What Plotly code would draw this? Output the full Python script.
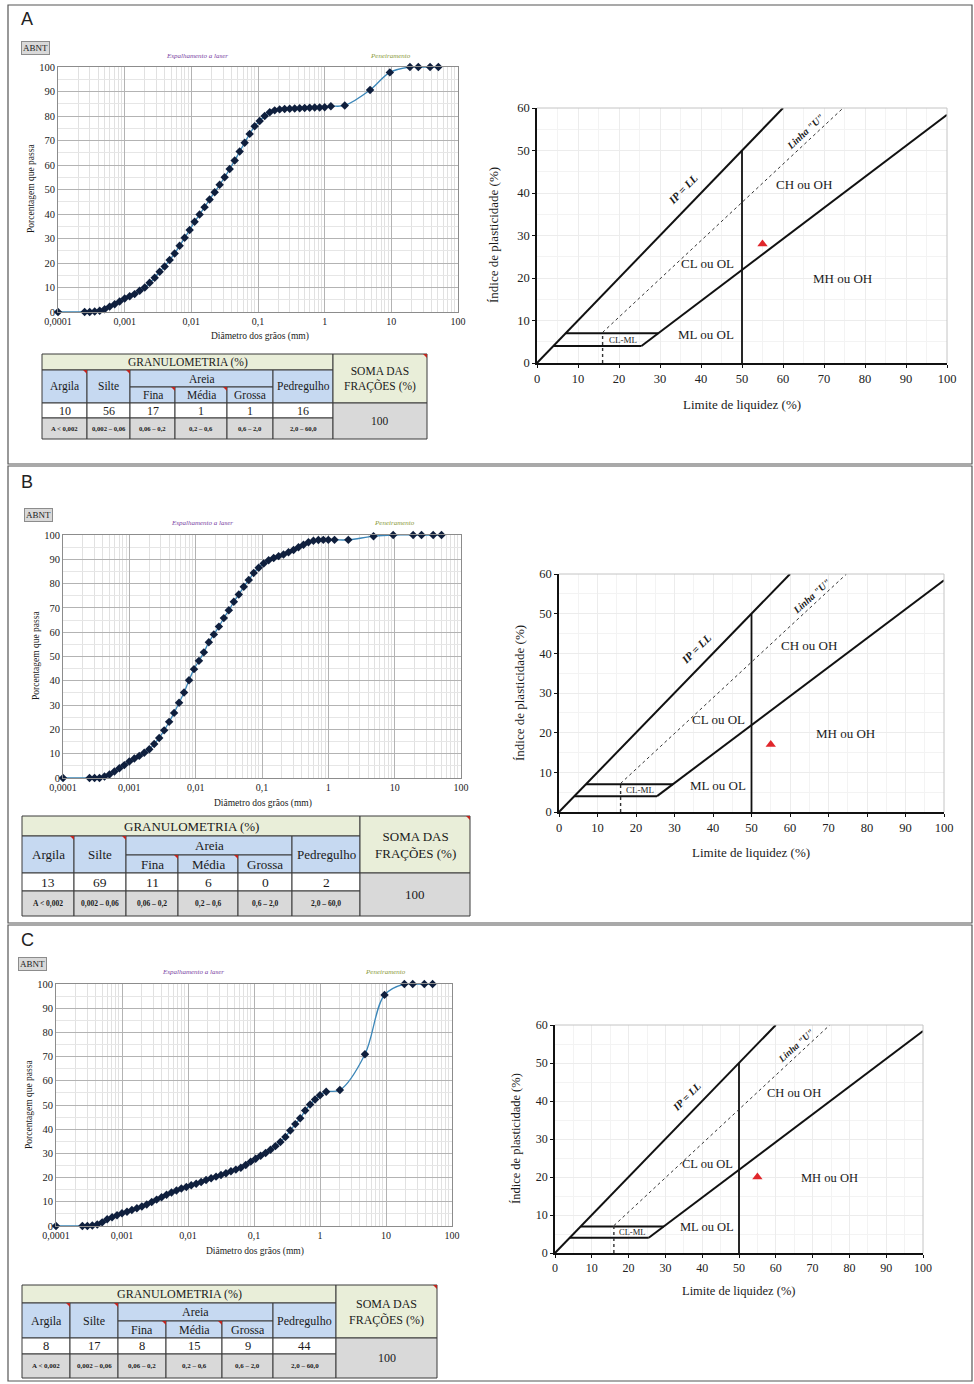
import plotly.graph_objects as go

W, H = 974, 1384
SERIF = "Liberation Serif"
SANS = "Liberation Sans"


def px(x):
    return x / W


def py(y):
    return 1 - y / H


# ---------------- data ----------------
start_d = [0.0001]
start_p = [0.0]
laser_d = [0.000251, 0.000299, 0.000355, 0.000422, 0.000501, 0.000596, 0.000708, 0.000841,
           0.001, 0.00119, 0.00141, 0.00168, 0.00200, 0.00237, 0.00282, 0.00335, 0.00398,
           0.00473, 0.00562, 0.00668, 0.00794, 0.00944, 0.0112, 0.0133, 0.0158, 0.0188,
           0.0224, 0.0266, 0.0316, 0.0376, 0.0447, 0.0531, 0.0631, 0.0750, 0.0891, 0.106,
           0.126, 0.150, 0.178, 0.211, 0.251, 0.299, 0.355, 0.422, 0.501, 0.596, 0.708,
           0.841, 1.0]
sieve_d = [1.24, 2.0, 4.8, 9.5, 19.0, 25.4, 38.1, 50.8]

pass_a_laser = [0, 0, 0.2, 0.5, 1.1, 2.2, 3.2, 4.3, 5.5, 6.4, 7.3, 8.7, 10.0, 11.9, 14.0,
                16.4, 18.6, 21.2, 23.9, 27.0, 30.3, 33.5, 36.8, 39.8, 42.8, 45.9, 48.9, 51.9,
                55.0, 58.4, 61.8, 65.5, 69.1, 72.7, 75.8, 78.0, 80.0, 81.5, 82.3, 82.7, 82.9,
                83.0, 83.1, 83.2, 83.3, 83.4, 83.5, 83.5, 83.6]
pass_a_sieve = [84.0, 84.3, 90.6, 97.8, 100, 100, 100, 100]

pass_b_laser = [0, 0, 0, 0.6, 1.4, 2.7, 4.0, 5.3, 6.8, 8.0, 9.1, 10.4, 11.8, 14.0, 16.5,
                19.6, 23.1, 26.8, 31.0, 35.2, 40.2, 44.8, 48.2, 51.7, 55.9, 59.1, 62.3, 65.8,
                69.0, 72.5, 75.5, 78.7, 81.5, 84.4, 86.5, 88.3, 89.6, 90.5, 91.3, 92.0, 92.9,
                93.8, 95.0, 96.0, 97.0, 97.6, 97.9, 98.0, 98.0]
pass_b_sieve = [98.0, 98.0, 99.5, 100, 100, 100, 100, 100]

pass_c_laser = [0, 0, 0.2, 0.6, 1.5, 2.8, 3.6, 4.4, 5.3, 5.9, 6.6, 7.3, 8.1, 8.9, 9.9,
                10.9, 11.9, 12.9, 13.8, 14.7, 15.5, 16.1, 16.8, 17.5, 18.2, 19.0, 19.7, 20.4,
                21.1, 21.8, 22.6, 23.3, 24.1, 25.2, 26.6, 27.8, 29.0, 30.2, 31.5, 33.0, 34.7,
                36.8, 39.5, 42.1, 44.5, 47.7, 50.2, 52.3, 54.0]
pass_c_sieve = [55.5, 56.2, 71.0, 95.5, 100, 100, 100, 100]

size_ticks = [0.0001, 0.001, 0.01, 0.1, 1, 10, 100]
size_tick_text = ["0,0001", "0,001", "0,01", "0,1", "1", "10", "100"]

frac_headers = ["Argila", "Silte", "Fina", "Média", "Grossa", "Pedregulho"]
range_labels = ["A < 0,002", "0,002 – 0,06", "0,06 – 0,2", "0,2 – 0,6", "0,6 – 2,0", "2,0 – 60,0"]
frac_a = [10, 56, 17, 1, 1, 16]
frac_b = [13, 69, 11, 6, 0, 2]
frac_c = [8, 17, 8, 15, 9, 44]
soma = [100, 100, 100]

ll_sample = [55, 55, 55]
ip_sample = [28, 17, 20]

# Casagrande plasticity chart reference lines
ipll_x, ipll_y = [0, 60], [0, 60]
aline_x, aline_y = [25.48, 100], [4, 58.4]
uline_x, uline_y = [16, 74.67], [7.2, 60]
ll50_x, ll50_y = [50, 50], [0, 50]
ll16_x, ll16_y = [16, 16], [0, 7.2]
ip4_x, ip4_y = [4, 25.48], [4, 4]
ip7_x, ip7_y = [7, 29.59], [7, 7]

zone_text = ["CH ou OH", "CL ou OL", "MH ou OH", "ML ou OL"]
zone_ll = [65, 41.5, 74.5, 41.2]
zone_ip = [42, 23.3, 19.8, 6.8]

# ---------------- layout geometry ----------------
panels = [
    dict(letter="A", frame=(8, 5, 972, 464), letter_xy=(27, 19),
         g=(58, 458, 67, 312), gxt=(260, 337), gyt=(31, 189), abnt=(35, 48), top_y=56,
         laser_x=197, sieve_x=390, gfs=10,
         p=(537, 947, 108, 363), pxt=(742, 405), pyt=(493, 235), pfs=12.5,
         cols=[42, 87, 130, 175, 227, 273, 333, 427], rows=[354, 370, 387, 403, 418, 439], tfs=11.5,
         passes=(pass_a_laser, pass_a_sieve), frac=frac_a),
    dict(letter="B", frame=(8, 466, 972, 923), letter_xy=(27, 482),
         g=(63, 461, 535, 778), gxt=(263, 803), gyt=(36, 656), abnt=(38, 515), top_y=523,
         laser_x=202, sieve_x=394, gfs=10,
         p=(559, 944, 574, 812), pxt=(751, 852), pyt=(519, 693), pfs=12.5,
         cols=[22, 74, 126, 178, 238, 292, 360, 470], rows=[816, 836, 855, 873, 891, 916], tfs=13,
         passes=(pass_b_laser, pass_b_sieve), frac=frac_b),
    dict(letter="C", frame=(8, 925, 972, 1381), letter_xy=(27, 940),
         g=(56, 452, 984, 1226), gxt=(255, 1251), gyt=(29, 1105), abnt=(32, 964), top_y=972,
         laser_x=193, sieve_x=385, gfs=10,
         p=(555, 923, 1025, 1253), pxt=(739, 1291), pyt=(516, 1139), pfs=12,
         cols=[22, 70, 118, 166, 222, 273, 336, 437], rows=[1285, 1303, 1321, 1338, 1354, 1378], tfs=12,
         passes=(pass_c_laser, pass_c_sieve), frac=frac_c),
]

fig = go.Figure()
layout = dict(width=W, height=H, margin=dict(l=0, r=0, t=0, b=0, pad=0, autoexpand=False),
              autosize=False, paper_bgcolor="white", plot_bgcolor="white", showlegend=False)
shapes = []
annotations = []


def ann(text, x, y, size, color="#1a1a1a", family=SERIF, angle=0, xref="paper", yref="paper", **kw):
    d = dict(text=text, x=x, y=y, xref=xref, yref=yref, showarrow=False, textangle=angle,
             font=dict(family=family, size=size, color=color), xanchor="center", yanchor="middle")
    d.update(kw)
    annotations.append(d)


for i, P in enumerate(panels):
    ng = 2 * i + 1
    npl = 2 * i + 2
    xg = "x" if ng == 1 else f"x{ng}"
    yg = "y" if ng == 1 else f"y{ng}"
    xp, yp = f"x{npl}", f"y{npl}"

    # panel frame & letter
    fx0, fy0, fx1, fy1 = P["frame"]
    shapes.append(dict(type="rect", xref="paper", yref="paper", x0=px(fx0), x1=px(fx1),
                       y0=py(fy1), y1=py(fy0), line=dict(color="#555555", width=1.2)))
    ann(P["letter"], px(P["letter_xy"][0]), py(P["letter_xy"][1]), 18, family=SANS, color="#222")

    # ---- grain size curve ----
    gx0, gx1, gy0, gy1 = P["g"]
    laser_p, sieve_p = P["passes"]
    fig.add_trace(go.Scatter(
        x=start_d + laser_d + sieve_d, y=start_p + laser_p + sieve_p,
        mode="lines+markers", xaxis=xg, yaxis=yg, cliponaxis=False,
        line=dict(color="#3b86b8", width=1.3, shape="spline", smoothing=1.0),
        marker=dict(symbol="diamond", size=6.5, color="#0f1f3d"),
        hoverinfo="x+y"))
    layout["xaxis" if ng == 1 else f"xaxis{ng}"] = dict(
        type="log", range=[-4, 2], domain=[px(gx0), px(gx1)], anchor=yg, automargin=False,
        tickmode="array", tickvals=size_ticks, ticktext=size_tick_text,
        showgrid=True, gridcolor="#b3b3b3", gridwidth=1,
        minor=dict(showgrid=True, gridcolor="#e1e1e1", dtick="D1", ticks=""),
        showline=True, linecolor="#8c8c8c", mirror=True, ticks="", zeroline=False,
        tickfont=dict(family=SERIF, size=P["gfs"], color="#222"))
    layout["yaxis" if ng == 1 else f"yaxis{ng}"] = dict(
        range=[0, 100], domain=[py(gy1), py(gy0)], anchor=xg, dtick=10, automargin=False,
        showgrid=True, gridcolor="#b3b3b3", gridwidth=1,
        minor=dict(showgrid=True, gridcolor="#e6e6e6", dtick=5, ticks=""),
        showline=True, linecolor="#8c8c8c", mirror=True, ticks="", zeroline=False,
        tickfont=dict(family=SERIF, size=P["gfs"] + 0.5, color="#222"))
    ann("Diâmetro dos grãos (mm)", px(P["gxt"][0]), py(P["gxt"][1]), 9.5)
    ann("Porcentagem que passa", px(P["gyt"][0]), py(P["gyt"][1]), 9.5, angle=-90)
    ann("ABNT", px(P["abnt"][0]), py(P["abnt"][1]), 9, bgcolor="#d9d9d9",
        bordercolor="#8c8c8c", borderwidth=1, borderpad=1)
    ann("<i>Espalhamento a laser</i>", px(P["laser_x"]), py(P["top_y"]), 7, color="#7a3fa3")
    ann("<i>Peneiramento</i>", px(P["sieve_x"]), py(P["top_y"]), 7, color="#8a9a3a")

    # ---- plasticity chart ----
    qx0, qx1, qy0, qy1 = P["p"]
    thick = dict(color="#111111", width=2)
    for lx, ly, st in [(ipll_x, ipll_y, thick), (aline_x, aline_y, thick),
                       (ip4_x, ip4_y, thick), (ip7_x, ip7_y, thick),
                       (ll50_x, ll50_y, dict(color="#111111", width=1.8)),
                       (uline_x, uline_y, dict(color="#333333", width=1, dash="dot")),
                       (ll16_x, ll16_y, dict(color="#333333", width=1.4, dash="dot"))]:
        fig.add_trace(go.Scatter(x=lx, y=ly, mode="lines", line=st, xaxis=xp, yaxis=yp,
                                 hoverinfo="skip", cliponaxis=True))
    fig.add_trace(go.Scatter(x=[ll_sample[i]], y=[ip_sample[i]], mode="markers", xaxis=xp, yaxis=yp,
                             marker=dict(symbol="triangle-up", size=9, color="#e0262b")))
    layout[f"xaxis{npl}"] = dict(
        range=[0, 100], domain=[px(qx0), px(qx1)], anchor=yp, dtick=10, automargin=False,
        showgrid=True, gridcolor="#ececec", minor=dict(showgrid=True, gridcolor="#f3f3f3", dtick=5),
        showline=True, linecolor="#111", linewidth=1.5, ticks="outside", ticklen=3,
        tickcolor="#111", zeroline=False,
        tickfont=dict(family=SERIF, size=P["pfs"], color="#222"))
    layout[f"yaxis{npl}"] = dict(
        range=[0, 60], domain=[py(qy1), py(qy0)], anchor=xp, dtick=10, automargin=False,
        showgrid=True, gridcolor="#ececec", minor=dict(showgrid=True, gridcolor="#f3f3f3", dtick=5),
        showline=True, linecolor="#111", linewidth=1.5, ticks="outside", ticklen=3,
        tickcolor="#111", zeroline=False,
        tickfont=dict(family=SERIF, size=P["pfs"], color="#222"))
    shapes.append(dict(type="line", xref=f"{xp} domain", yref=f"{yp} domain", x0=0, x1=1, y0=1, y1=1,
                       line=dict(color="#c4c4c4", width=1)))
    shapes.append(dict(type="line", xref=f"{xp} domain", yref=f"{yp} domain", x0=1, x1=1, y0=0, y1=1,
                       line=dict(color="#c4c4c4", width=1)))
    for t, lx, ly in zip(zone_text, zone_ll, zone_ip):
        ann(t, lx, ly, P["pfs"] + 0.5, xref=xp, yref=yp)
    ann("CL-ML", 21, 5.5, P["pfs"] - 3.5, xref=xp, yref=yp)
    ang = -46 if i == 0 else -45
    ann("<b><i>IP = LL</i></b>", 35.6, 41.0, P["pfs"] - 1.5, xref=xp, yref=yp, angle=ang)
    ann("<b><i>Linha \"U\"</i></b>", 65.5, 54.4, P["pfs"] - 2.5, xref=xp, yref=yp, angle=ang + 3)
    ann("Limite de liquidez (%)", px(P["pxt"][0]), py(P["pxt"][1]), P["pfs"] + 0.5)
    ann("Índice de plasticidade (%)", px(P["pyt"][0]), py(P["pyt"][1]), P["pfs"] + 0.5, angle=-90)

    # ---- granulometry table ----
    cols, rows, fs = P["cols"], P["rows"], P["tfs"]

    def cell(c0, c1, r0, r1, fill, text, size, color="#1a1a1a"):
        shapes.append(dict(type="rect", xref="paper", yref="paper",
                           x0=px(cols[c0]), x1=px(cols[c1]), y0=py(rows[r1]), y1=py(rows[r0]),
                           fillcolor=fill, line=dict(color="#3a3a3a", width=1)))
        ann(text, px((cols[c0] + cols[c1]) / 2), py((rows[r0] + rows[r1]) / 2), size, color=color)

    HEAD = "#e9eed9"
    BLUE = "#c6d9f1"
    GRAY = "#d9d9d9"
    cell(0, 6, 0, 1, HEAD, "GRANULOMETRIA (%)", fs)
    cell(0, 1, 1, 3, BLUE, frac_headers[0], fs)
    cell(1, 2, 1, 3, BLUE, frac_headers[1], fs)
    cell(2, 5, 1, 2, BLUE, "Areia", fs)
    cell(2, 3, 2, 3, BLUE, frac_headers[2], fs)
    cell(3, 4, 2, 3, BLUE, frac_headers[3], fs)
    cell(4, 5, 2, 3, BLUE, frac_headers[4], fs)
    cell(5, 6, 1, 3, BLUE, frac_headers[5], fs)
    for k in range(6):
        cell(k, k + 1, 3, 4, "white", str(P["frac"][k]), fs + 0.5)
        cell(k, k + 1, 4, 5, GRAY, f"<b>{range_labels[k]}</b>", fs * 0.58)
    cell(6, 7, 0, 3, HEAD, "SOMA DAS<br>FRAÇÕES (%)", fs)
    cell(6, 7, 3, 5, GRAY, str(soma[i]), fs)
    # comment indicators (red corner marks)
    for cx, cy in [(cols[1], rows[1]), (cols[2], rows[1]), (cols[3], rows[2]),
                   (cols[4], rows[2]), (cols[7], rows[0])]:
        shapes.append(dict(type="path", xref="paper", yref="paper",
                           path=f"M {px(cx - 4)} {py(cy)} L {px(cx)} {py(cy)} L {px(cx)} {py(cy + 4)} Z",
                           fillcolor="#c0261f", line=dict(width=0)))

layout["shapes"] = shapes
layout["annotations"] = annotations
fig.update_layout(**layout)
fig.write_html(
    "out.html",
    config={"displayModeBar": False},
    post_script="document.body.style.margin='0';document.body.style.padding='0';"
                "document.documentElement.style.overflow='hidden';",
)
